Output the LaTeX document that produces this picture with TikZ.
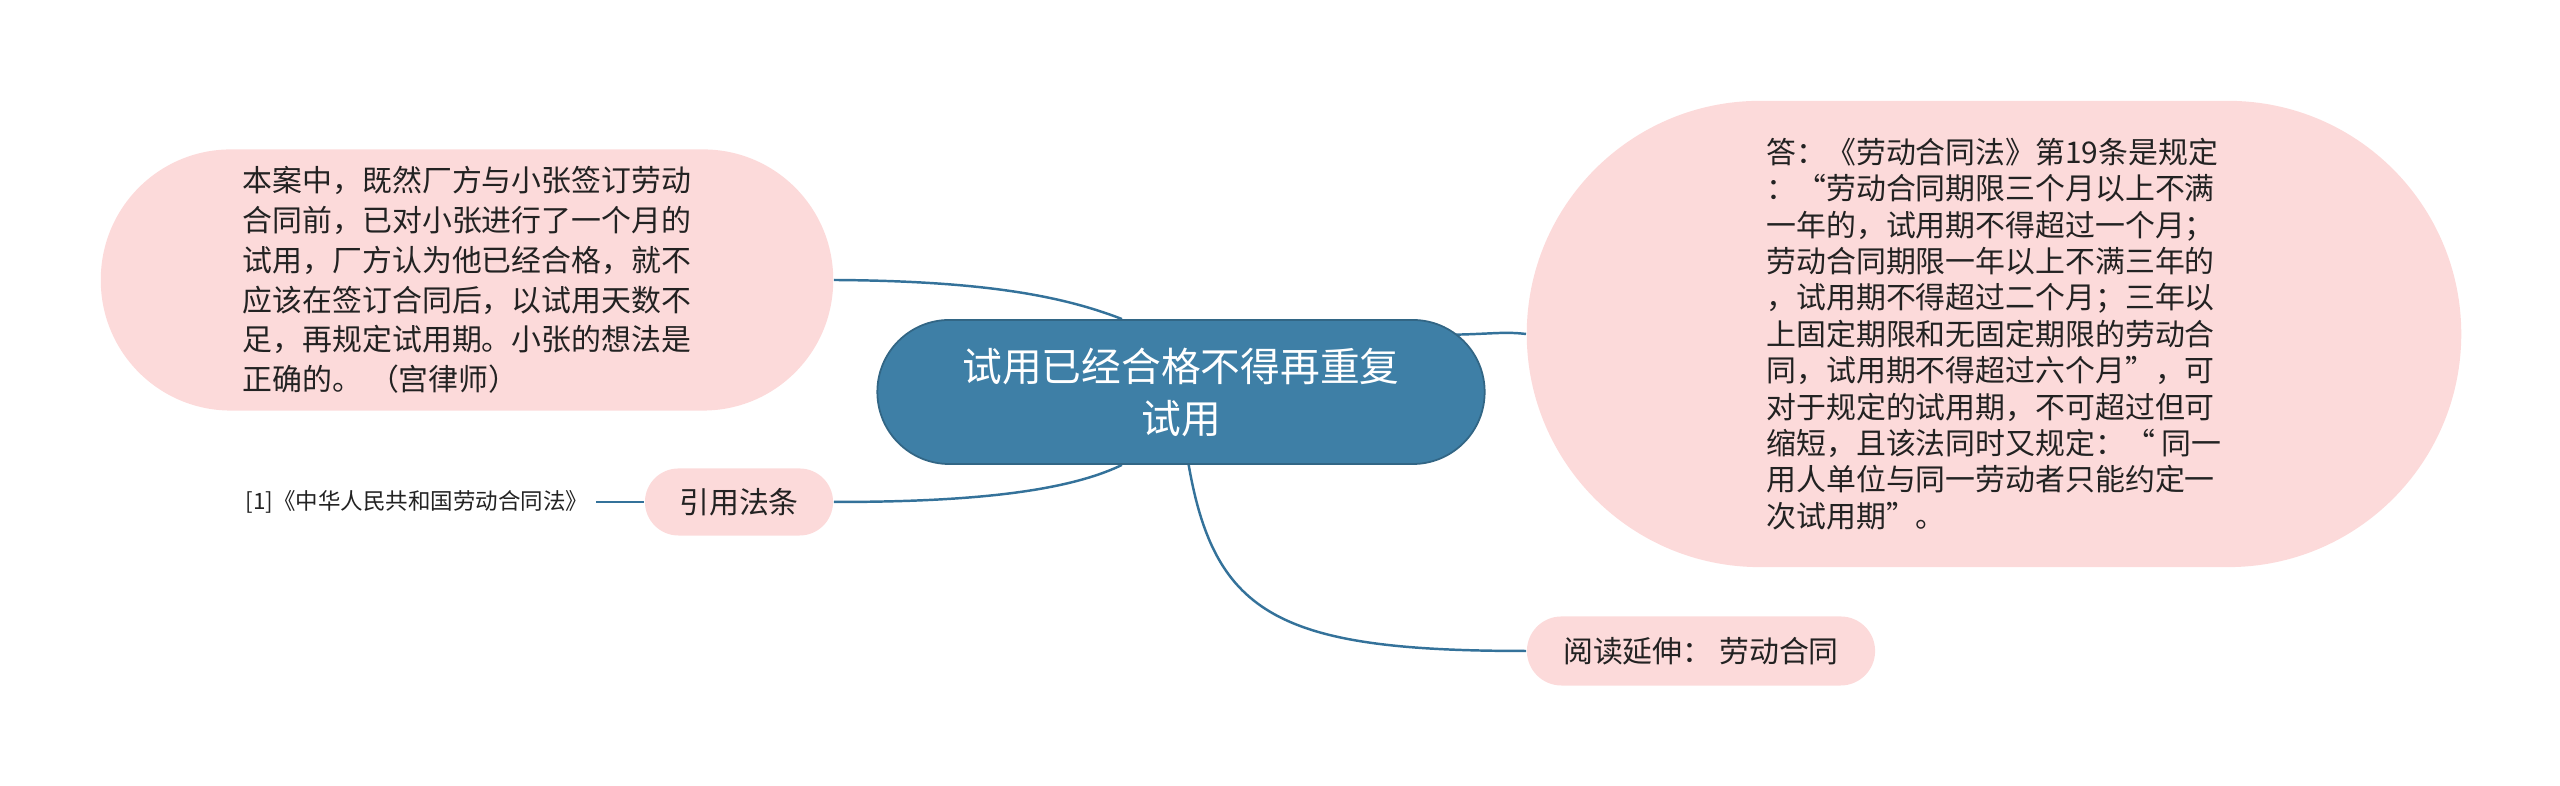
\documentclass[tikz,border=0pt]{standalone}
\usepackage{fontspec}
\usepackage{tikz}
\usetikzlibrary{positioning, backgrounds, calc}
\newfontfamily\cjkfont{Noto Sans CJK SC}
\definecolor{bubblecolor}{RGB}{252,218,218}
\definecolor{rootcolor}{RGB}{62,127,166}
\definecolor{linkcolor}{RGB}{52,114,154}
\definecolor{textcolor}{RGB}{34,34,34}

\begin{document}
\begin{tikzpicture}[
    x=0.01cm, y=0.01cm,
    rootbox/.style={draw=rootcolor!80!black, line width=0.5pt, fill=rootcolor, text=white, minimum width=6.07cm, minimum height=1.44cm, rounded corners=0.72cm, font=\cjkfont\fontsize{11.3}{14.8}\selectfont, align=center},
    bubble/.style={fill=bubblecolor, text=textcolor, font=\cjkfont\fontsize{8.5}{10.8}\selectfont, align=left},
    link/.style={draw=linkcolor, line width=0.7pt}
]
    \useasboundingbox (0,0) rectangle (2560,786);

    \node[rootbox] (root) at (1181,394) {试用已经合格不得再重复\\试用};
    \node[bubble, font=\cjkfont\fontsize{8.5}{11.3}\selectfont, minimum width=7.32cm, minimum height=2.61cm, rounded corners=1.3cm] (case) at (467,506) {本案中，既然厂方与小张签订劳动\\合同前，已对小张进行了一个月的\\试用，厂方认为他已经合格，就不\\应该在签订合同后，以试用天数不\\足，再规定试用期。小张的想法是\\正确的。 （宫律师）};
    \node[bubble, font=\cjkfont\fontsize{8.5}{10.35}\selectfont, minimum width=9.34cm, minimum height=4.66cm, rounded corners=2.33cm] (answer) at (1994,452) {答：《劳动合同法》第19条是规定\\：“劳动合同期限三个月以上不满\\一年的，试用期不得超过一个月；\\劳动合同期限一年以上不满三年的\\，试用期不得超过二个月；三年以\\上固定期限和无固定期限的劳动合\\同，试用期不得超过六个月”，可\\对于规定的试用期，不可超过但可\\缩短，且该法同时又规定：“ 同一\\用人单位与同一劳动者只能约定一\\次试用期”。};
    \node[bubble, minimum width=1.88cm, minimum height=0.67cm, rounded corners=0.335cm, align=center] (law) at (739,284) {引用法条};
    \node[bubble, minimum width=3.48cm, minimum height=0.69cm, rounded corners=0.345cm, align=center] (read) at (1701,135) {阅读延伸：\ 劳动合同};
    \node[anchor=east, inner sep=2pt, text=textcolor, font=\cjkfont\fontsize{6.4}{8}\selectfont] (lawref) at (596,284) {[1]《中华人民共和国劳动合同法》};

    \begin{scope}[on background layer]
        \draw[link] (root.129) .. controls (1060,491) and (980,505) .. (case.east);
        \draw[link] (root.231) .. controls (1060,291) and (950,284) .. (law.east);
        \draw[link] ($(root.east)+(-60,57)$) .. controls (1490,451) and (1500,455) .. (answer.west);
        \draw[link] (root.276) .. controls (1215,170) and (1280,135) .. (read.west);
        \draw[link] (lawref.east) -- (law.west);
    \end{scope}
\end{tikzpicture}
\end{document}
